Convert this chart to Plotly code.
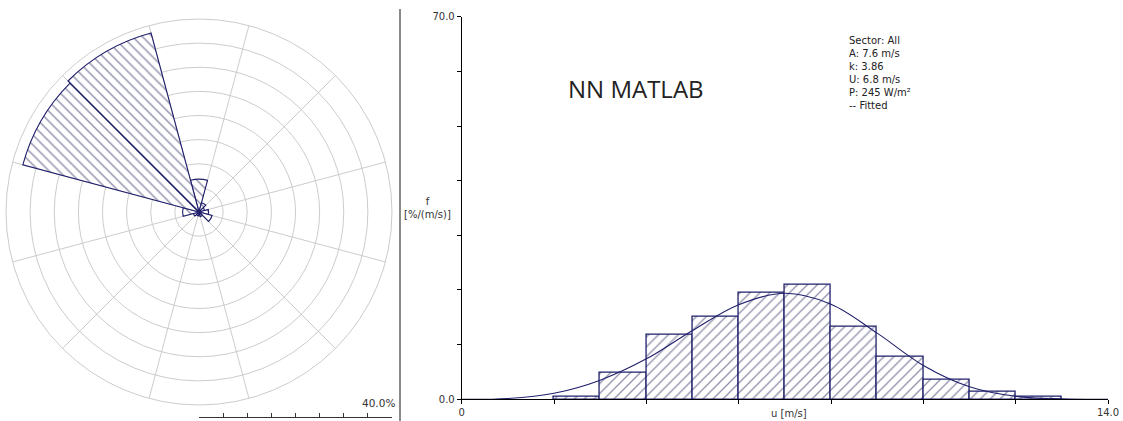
import plotly.graph_objects as go

W, H = 1123, 421

# ---- wind rose: 12 sectors, frequency in % ----
sector_dirs = [0, 30, 60, 90, 120, 150, 180, 210, 240, 270, 300, 330]
sector_freq = [6.8, 2.0, 1.2, 2.0, 2.8, 1.0, 0.8, 0.8, 1.2, 3.4, 37.8, 38.4]
sector_edges = [15, 45, 75, 105, 135, 165, 195, 225, 255, 285, 315, 345]
rose_rings = [5, 10, 15, 20, 25, 30, 35, 40]
rose_max = 40

# ---- wind speed histogram, 1 m/s bins, f in %/(m/s) ----
bin_left = [2, 3, 4, 5, 6, 7, 8, 9, 10, 11, 12]
bin_freq = [0.5, 4.8, 11.9, 15.1, 19.5, 20.9, 13.3, 7.8, 3.5, 1.3, 0.4]

# fitted Weibull curve (A = 7.6 m/s, k = 3.86)
fit_speed = [0, 1, 2, 3, 4, 5, 6, 7, 8, 9, 10, 11, 12, 13, 14]
fit_freq = [0, 0.15, 1.1, 3.5, 7.4, 12.6, 17.3, 19.4, 17.4, 12.1, 6.2, 2.3, 0.55, 0.08, 0.01]

x_ticks = [0, 2, 4, 6, 8, 10, 12, 14]
x_ticktext = ["0", "", "", "", "", "", "", "14.0"]
y_ticks = [0, 10, 20, 30, 40, 50, 60, 70]
y_ticktext = ["0.0", "", "", "", "", "", "", "70.0"]

stats_lines = ["Sector: All", "A: 7.6 m/s", "k: 3.86", "U: 6.8 m/s",
               "P: 245 W/m²", "-- Fitted"]

NAVY = "#1f1f6b"
HATCH = "#1e1e55"
GRID = "#cccccc"
TXT = "#333333"
FONT = "DejaVu Sans"

# rose placement (pixels)
cx, cy, R = 199, 212, 193

fig = go.Figure()

fig.add_trace(go.Barpolar(
    r=sector_freq, theta=sector_dirs, width=[30] * len(sector_dirs),
    marker=dict(color="white",
                line=dict(color=NAVY, width=1.1),
                pattern=dict(shape="\\", fgcolor=HATCH, bgcolor="white",
                             size=7, solidity=0.2)),
    showlegend=False, hoverinfo="skip",
))

# histogram bars
fig.add_trace(go.Bar(
    x=[b + 0.5 for b in bin_left], y=bin_freq, width=1.0,
    marker=dict(color="white",
                line=dict(color=NAVY, width=1.3),
                pattern=dict(shape="/", fgcolor=HATCH, bgcolor="white",
                             size=7, solidity=0.18)),
    xaxis="x", yaxis="y", showlegend=False, hoverinfo="skip",
))

# fitted curve
fig.add_trace(go.Scatter(
    x=fit_speed, y=fit_freq, mode="lines",
    line=dict(color=NAVY, width=1.1, shape="spline", smoothing=1.0),
    xaxis="x", yaxis="y", showlegend=False, hoverinfo="skip",
))

# scale bar under the rose (0 - 40 %)
fig.add_trace(go.Scatter(x=[None], y=[None], xaxis="x2", yaxis="y2",
                         showlegend=False, hoverinfo="skip"))

x0_px, x14_px = 461.7, 1108.0
y0_px, y70_px = 399.3, 16.7

fig.update_layout(
    width=W, height=H,
    margin=dict(l=0, r=0, t=0, b=0, pad=0, autoexpand=False),
    paper_bgcolor="white", plot_bgcolor="white",
    font=dict(family=FONT, size=10, color=TXT),
    showlegend=False,
    bargap=0,
    polar=dict(
        domain=dict(x=[(cx - R) / W, (cx + R) / W],
                    y=[1 - (cy + R) / H, 1 - (cy - R) / H]),
        bgcolor="white",
        angularaxis=dict(rotation=90, direction="clockwise",
                         tickmode="array", tickvals=sector_edges,
                         showticklabels=False, ticks="",
                         showgrid=True, gridcolor=GRID, gridwidth=1,
                         showline=True, linecolor=GRID, linewidth=1),
        radialaxis=dict(range=[0, rose_max], tickmode="array",
                        tickvals=rose_rings, showticklabels=False,
                        ticks="", showline=False,
                        showgrid=True, gridcolor=GRID, gridwidth=1),
    ),
    xaxis=dict(domain=[x0_px / W, x14_px / W], range=[0, 14],
               tickmode="array", tickvals=x_ticks, ticktext=x_ticktext,
               ticks="outside", ticklen=4, tickcolor="black",
               showline=True, linecolor="black", linewidth=1,
               showgrid=False, zeroline=False, anchor="y", automargin=False,
               tickfont=dict(family=FONT, size=10, color=TXT)),
    yaxis=dict(domain=[1 - y0_px / H, 1 - y70_px / H], range=[0, 70],
               tickmode="array", tickvals=y_ticks, ticktext=y_ticktext,
               ticks="outside", ticklen=4, tickcolor="black",
               showline=True, linecolor="black", linewidth=1,
               showgrid=False, zeroline=False, anchor="x", automargin=False,
               tickfont=dict(family=FONT, size=10, color=TXT)),
    xaxis2=dict(domain=[cx / W, (cx + R) / W], range=[0, rose_max],
                tickmode="linear", tick0=0, dtick=5,
                ticks="inside", ticklen=4, tickcolor=TXT,
                showline=True, linecolor=TXT, linewidth=1,
                showticklabels=False, showgrid=False, zeroline=False,
                anchor="y2", automargin=False),
    yaxis2=dict(domain=[1 - 416.7 / H, 1 - 400 / H], visible=False,
                range=[0, 1], anchor="x2", automargin=False),
)

# separator between the two panels
fig.add_shape(type="line", xref="paper", yref="paper",
              x0=400 / W, x1=400 / W, y0=0, y1=1 - 9 / H,
              line=dict(color="#8a8a8a", width=2))

fig.add_annotation(x=rose_max, xref="x2", y=1 - 403 / H, yref="paper",
                   text="40.0%", showarrow=False, xanchor="right",
                   yanchor="middle", xshift=5,
                   font=dict(family=FONT, size=10.5, color=TXT))

fig.add_annotation(x=7.1, xref="x", y=1 - 413 / H, yref="paper",
                   text="u [m/s]", showarrow=False, xanchor="center",
                   yanchor="middle", font=dict(family=FONT, size=10, color=TXT))

fig.add_annotation(x=427.5 / W, xref="paper", y=1 - 208 / H, yref="paper",
                   text="f<br>[%/(m/s)]", showarrow=False, xanchor="center",
                   yanchor="middle", align="center",
                   font=dict(family=FONT, size=10, color=TXT))

fig.add_annotation(x=636 / W, xref="paper", y=1 - 88 / H, yref="paper",
                   text="NN MATLAB", showarrow=False, xanchor="center",
                   yanchor="middle",
                   font=dict(family="Open Sans", size=24, color="#222222"))

fig.add_annotation(x=847 / W, xref="paper", y=1 - 33 / H, yref="paper",
                   text="<br>".join(stats_lines), showarrow=False,
                   xanchor="left", yanchor="top", align="left",
                   font=dict(family=FONT, size=10, color="#222222"))

fig.write_html("out.html")
